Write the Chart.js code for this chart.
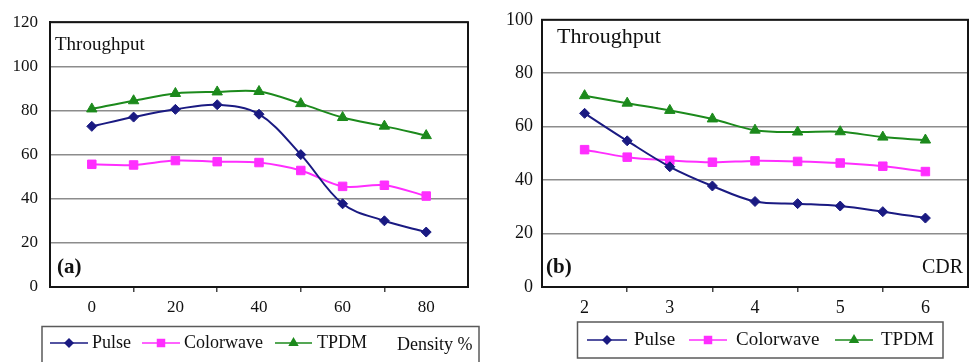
<!DOCTYPE html>
<html>
<head>
<meta charset="utf-8">
<script src="https://cdn.jsdelivr.net/npm/chart.js@4.4.1/dist/chart.umd.min.js"></script>
<style>
  html, body { margin: 0; padding: 0; background: #ffffff; }
  #wrap { position: relative; width: 975px; height: 362px; overflow: hidden; background: #fff; }
  #cA { position: absolute; left: 0; top: 0; }
  #cB { position: absolute; left: 490px; top: 0; }
</style>
</head>
<body>
<div id="wrap">
  <canvas id="cA" width="490" height="362"></canvas>
  <canvas id="cB" width="485" height="362"></canvas>
</div>
<script>
// ---------- Data: panel (a) ----------
const densityA   = [0, 10, 20, 30, 40, 50, 60, 70, 80];
const pulseA     = [72.8, 77, 80.5, 82.6, 78.3, 60, 37.7, 30, 24.9];
const colorwaveA = [55.6, 55.3, 57.3, 56.8, 56.4, 52.8, 45.6, 46.1, 41.2];
const tpdmA      = [80.7, 84.4, 87.7, 88.4, 88.6, 83.1, 76.8, 72.9, 68.6];
const xLabelsA   = [0, 20, 40, 60, 80];

// ---------- Data: panel (b) ----------
const cdrB       = [2, 2.5, 3, 3.5, 4, 4.5, 5, 5.5, 6];
const pulseB     = [65, 54.7, 45, 37.8, 32, 31.2, 30.3, 28.2, 25.8];
const colorwaveB = [51.4, 48.6, 47.4, 46.7, 47.2, 47, 46.4, 45.2, 43.2];
const tpdmB      = [71.6, 68.8, 66.1, 62.9, 58.7, 58, 58.1, 56.1, 55];
const xLabelsB   = [2, 3, 4, 5, 6];

const seriesNames = ['Pulse', 'Colorwave', 'TPDM'];

const SERIF = "'Liberation Serif', 'Times New Roman', serif";
const C_PULSE = '#1a1a82';
const C_COLOR = '#ff2eff';
const C_TPDM  = '#1c8a1c';

function pts(xs, ys) { return xs.map((x, i) => ({ x: x, y: ys[i] })); }

function ds(label, xs, ys, color, style, radius) {
  return {
    label: label,
    data: pts(xs, ys),
    borderColor: color,
    backgroundColor: color,
    borderWidth: 2,
    pointStyle: style,
    pointRadius: radius,
    pointBorderWidth: 1,
    pointBorderColor: color,
    pointBackgroundColor: color,
    tension: 0.35,
    fill: false
  };
}

function drawMarker(ctx, style, x, y, r, color) {
  ctx.save();
  ctx.fillStyle = color;
  ctx.beginPath();
  if (style === 'rectRot') {
    ctx.moveTo(x - r, y); ctx.lineTo(x, y - r); ctx.lineTo(x + r, y); ctx.lineTo(x, y + r);
  } else if (style === 'rect') {
    const h = r * Math.SQRT1_2;
    ctx.rect(x - h, y - h, 2 * h, 2 * h);
  } else {
    ctx.moveTo(x, y - r);
    ctx.lineTo(x + r * Math.sin(2 * Math.PI / 3), y - r * Math.cos(2 * Math.PI / 3));
    ctx.lineTo(x + r * Math.sin(4 * Math.PI / 3), y - r * Math.cos(4 * Math.PI / 3));
  }
  ctx.closePath();
  ctx.fill();
  ctx.restore();
}

function drawLegend(ctx, box, items, y, fontSize, extra) {
  ctx.save();
  ctx.strokeStyle = '#5a5a5a';
  ctx.lineWidth = 1.5;
  ctx.strokeRect(box[0], box[1], box[2], box[3]);
  ctx.font = fontSize + 'px ' + SERIF;
  ctx.textBaseline = 'middle';
  ctx.fillStyle = '#111';
  items.forEach(it => {
    ctx.strokeStyle = it.color;
    ctx.lineWidth = 1.5;
    ctx.beginPath();
    ctx.moveTo(it.x0, y); ctx.lineTo(it.x1, y);
    ctx.stroke();
    drawMarker(ctx, it.style, (it.x0 + it.x1) / 2, y, it.r, it.color);
    ctx.fillStyle = '#111';
    ctx.fillText(it.text, it.tx, y);
  });
  if (extra) ctx.fillText(extra.text, extra.x, y + 2);
  ctx.restore();
}

function framePlugin(id, texts, legendFn) {
  return {
    id: id,
    beforeDatasetsDraw(chart) {
      const a = chart.chartArea, ctx = chart.ctx;
      ctx.save();
      ctx.strokeStyle = '#151515';
      ctx.lineWidth = 2;
      ctx.strokeRect(a.left, a.top, a.right - a.left, a.bottom - a.top);
      ctx.restore();
    },
    afterDraw(chart) {
      const a = chart.chartArea, ctx = chart.ctx;
      ctx.save();
      ctx.fillStyle = '#111';
      texts.forEach(t => {
        ctx.font = (t.bold ? 'bold ' : '') + t.size + 'px ' + SERIF;
        ctx.textAlign = t.align || 'left';
        ctx.textBaseline = 'alphabetic';
        ctx.fillText(t.text, t.x, t.y);
      });
      ctx.restore();
      legendFn(ctx);
    }
  };
}

function makeOptions(cfg) {
  return {
    responsive: false,
    animation: false,
    layout: { padding: { left: 0, top: cfg.top, right: cfg.right, bottom: 0 } },
    plugins: { legend: { display: false }, tooltip: { enabled: false } },
    scales: {
      x: {
        type: 'linear',
        min: cfg.xmin, max: cfg.xmax,
        afterFit: s => { s.height = 75; },
        ticks: {
          stepSize: cfg.xstep, autoSkip: false, maxRotation: 0, padding: 5,
          color: '#111', font: { family: SERIF, size: cfg.tickSize },
          callback: v => cfg.xLabels.includes(v) ? String(v) : ''
        },
        grid: {
          drawOnChartArea: false, drawTicks: true, tickLength: 5, lineWidth: 1.5,
          color: c => {
            const v = c.tick ? c.tick.value : null;
            if (v === null || cfg.xLabels.includes(v) || v === cfg.xmin || v === cfg.xmax) return 'rgba(0,0,0,0)';
            return '#444';
          }
        },
        border: { color: '#151515', width: 2 }
      },
      y: {
        min: 0, max: cfg.ymax,
        afterFit: s => { s.width = cfg.yWidth; },
        ticks: {
          stepSize: 20, padding: cfg.yPad, color: '#111',
          font: { family: SERIF, size: cfg.tickSize }
        },
        grid: { drawTicks: false, color: '#8c8c8c', lineWidth: 1.5 },
        border: { color: '#151515', width: 2 }
      }
    }
  };
}

// ---------- Panel (a) ----------
new Chart(document.getElementById('cA'), {
  type: 'line',
  data: {
    datasets: [
      ds(seriesNames[0], densityA, pulseA, C_PULSE, 'rectRot', 5),
      ds(seriesNames[1], densityA, colorwaveA, C_COLOR, 'rect', 6),
      ds(seriesNames[2], densityA, tpdmA, C_TPDM, 'triangle', 6)
    ]
  },
  options: makeOptions({ top: 20, right: 22, xmin: -10, xmax: 90, xstep: 10, xLabels: xLabelsA, ymax: 120, yWidth: 50, yPad: 12, tickSize: 17 }),
  plugins: [framePlugin('frameA', [
    { text: 'Throughput', x: 55, y: 50, size: 19 },
    { text: '(a)', x: 57, y: 273, size: 21, bold: true }
  ], ctx => drawLegend(ctx, [42, 326.5, 437, 50], [
    { color: C_PULSE, style: 'rectRot', r: 5, x0: 50, x1: 88, tx: 92, text: seriesNames[0] },
    { color: C_COLOR, style: 'rect', r: 6, x0: 142, x1: 180, tx: 184, text: seriesNames[1] },
    { color: C_TPDM, style: 'triangle', r: 6, x0: 275, x1: 312, tx: 317, text: seriesNames[2] }
  ], 343, 18, { text: 'Density %', x: 397 }))]
});

// ---------- Panel (b) ----------
new Chart(document.getElementById('cB'), {
  type: 'line',
  data: {
    datasets: [
      ds(seriesNames[0], cdrB, pulseB, C_PULSE, 'rectRot', 5),
      ds(seriesNames[1], cdrB, colorwaveB, C_COLOR, 'rect', 6),
      ds(seriesNames[2], cdrB, tpdmB, C_TPDM, 'triangle', 6)
    ]
  },
  options: makeOptions({ top: 12, right: 2, xmin: 1.5, xmax: 6.5, xstep: 0.5, xLabels: xLabelsB, ymax: 100, yWidth: 52, yPad: 9, tickSize: 18 }),
  plugins: [framePlugin('frameB', [
    { text: 'Throughput', x: 67, y: 43, size: 22 },
    { text: '(b)', x: 56, y: 273, size: 21, bold: true },
    { text: 'CDR', x: 473, y: 273, size: 20, align: 'right' }
  ], ctx => drawLegend(ctx, [87.5, 322, 365.5, 36], [
    { color: C_PULSE, style: 'rectRot', r: 5, x0: 97, x1: 137, tx: 144, text: seriesNames[0] },
    { color: C_COLOR, style: 'rect', r: 6, x0: 199, x1: 237, tx: 246, text: seriesNames[1] },
    { color: C_TPDM, style: 'triangle', r: 6, x0: 345, x1: 383, tx: 391, text: seriesNames[2] }
  ], 340, 19, null))]
});
</script>
</body>
</html>
